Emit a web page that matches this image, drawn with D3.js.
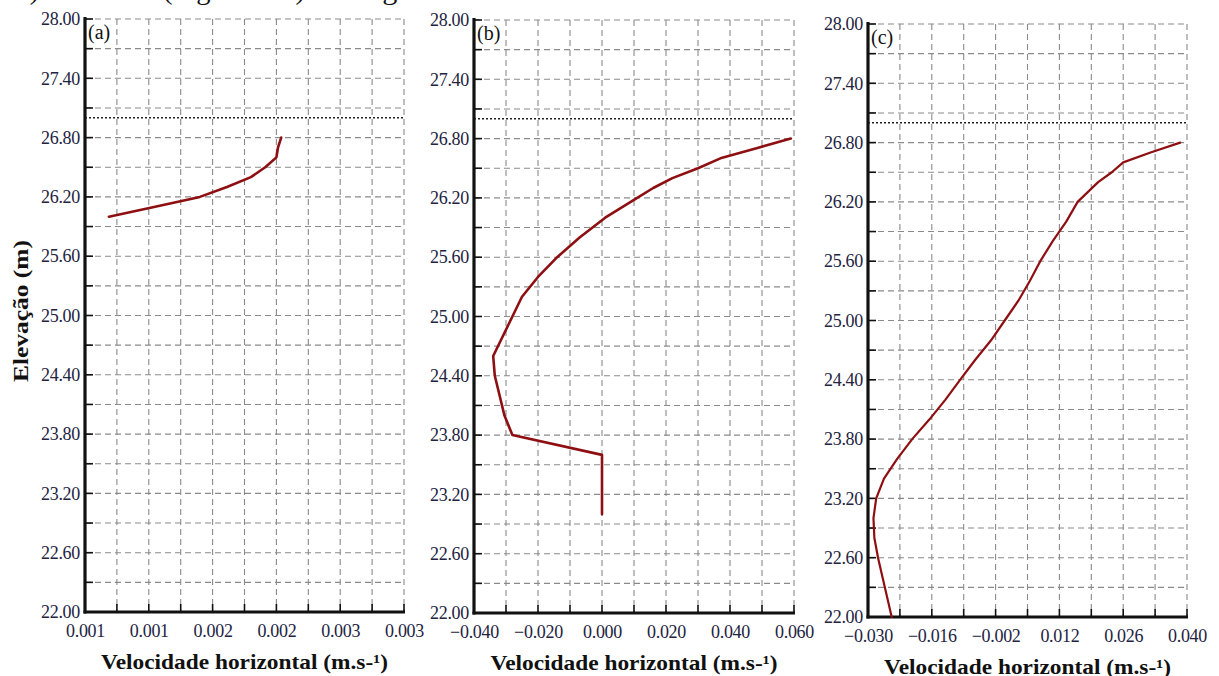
<!DOCTYPE html>
<html>
<head>
<meta charset="utf-8">
<script src="https://cdn.jsdelivr.net/npm/d3@7"></script>
<style>
  html, body { margin: 0; padding: 0; background: #fff; }
  svg { display: block; }
  text { font-family: "Liberation Serif", "Times New Roman", serif; }
</style>
</head>
<body>
<svg id="chart" width="1219" height="676"></svg>
<script>
// Elevation axis shared by the three profiles (m)
const elevDomain = [22.0, 28.0];
const elevTickLabels = [22.0, 22.6, 23.2, 23.8, 24.4, 25.0, 25.6, 26.2, 26.8, 27.4, 28.0];
const waterLevel = 27.0;

// Profile (a)
const aElev = [26.0, 26.1, 26.2, 26.3, 26.4, 26.5, 26.6, 26.7, 26.8];
const aVel  = [0.00115, 0.00144, 0.00172, 0.00189, 0.00204, 0.00213, 0.00220, 0.00221, 0.00223];
const aDomain = [0.0010, 0.0030];
const aTicks = [0.0010, 0.0014, 0.0018, 0.0022, 0.0026, 0.0030];

// Profile (b)
const bElev = [26.8, 26.7, 26.6, 26.5, 26.4, 26.3, 26.2, 26.0, 25.8, 25.6, 25.4, 25.2, 25.0, 24.8, 24.6, 24.4, 24.2, 24.0, 23.8, 23.6, 23.0];
const bVel  = [0.059, 0.048, 0.037, 0.030, 0.022, 0.016, 0.011, 0.001, -0.007, -0.014, -0.020, -0.025, -0.028, -0.031, -0.034, -0.0335, -0.032, -0.0305, -0.028, 0.000, 0.000];
const bDomain = [-0.040, 0.060];
const bTicks = [-0.040, -0.020, 0.000, 0.020, 0.040, 0.060];

// Profile (c)
const cElev = [26.8, 26.7, 26.6, 26.5, 26.4, 26.2, 26.0, 25.8, 25.6, 25.4, 25.2, 25.0, 24.8, 24.6, 24.4, 24.2, 24.0, 23.8, 23.6, 23.4, 23.2, 23.0, 22.8, 22.6, 22.4, 22.2, 22.0];
const cVel  = [0.0385, 0.032, 0.026, 0.0235, 0.0205, 0.016, 0.0135, 0.0105, 0.0078, 0.0055, 0.003, 0.0, -0.003, -0.0065, -0.0098, -0.013, -0.0165, -0.0203, -0.0236, -0.0265, -0.0282, -0.0288, -0.0286, -0.0278, -0.0268, -0.0258, -0.0248];
const cDomain = [-0.030, 0.040];
const cTicks = [-0.030, -0.016, -0.002, 0.012, 0.026, 0.040];

const panelLabels = ["(a)", "(b)", "(c)"];
const xTitle = "Velocidade horizontal (m.s-\u00B9)";
const yTitle = "Elevação (m)";

const svg = d3.select("#chart");
const labelColor = "#23233f";
const lineColor = "#8e0f12";

const panels = [
  { box: { left: 85,  right: 404,  top: 19, bottom: 612 }, elev: aElev, vel: aVel, domain: aDomain, ticks: aTicks, label: panelLabels[0], width: 2.6 },
  { box: { left: 474, right: 794,  top: 20, bottom: 613 }, elev: bElev, vel: bVel, domain: bDomain, ticks: bTicks, label: panelLabels[1], width: 2.6 },
  { box: { left: 868, right: 1187, top: 24, bottom: 617 }, elev: cElev, vel: cVel, domain: cDomain, ticks: cTicks, label: panelLabels[2], width: 2.2 }
];

// Caption line of the running text, mostly above the top edge
const caption = svg.append("g").attr("font-size", 28).attr("fill", "#111");
caption.append("text").attr("x", 39).attr("y", -1).attr("text-anchor", "end").text("a)");
caption.append("text").attr("x", 163).attr("y", -1)
  .attr("textLength", 142).attr("lengthAdjust", "spacingAndGlyphs").text("(Figura 10a)");
caption.append("text").attr("x", 336).attr("y", -1)
  .attr("textLength", 100).attr("lengthAdjust", "spacingAndGlyphs").text("e Figura");

panels.forEach(p => {
  const b = p.box;
  const x = d3.scaleLinear().domain(p.domain).range([b.left, b.right]);
  const y = d3.scaleLinear().domain(elevDomain).range([b.bottom, b.top]);
  const g = svg.append("g");

  // minor ticks sit halfway between labelled ticks
  const xMinor = [];
  p.ticks.forEach((t, i) => {
    xMinor.push(t);
    if (i < p.ticks.length - 1) xMinor.push((t + p.ticks[i + 1]) / 2);
  });
  const yMinor = [];
  elevTickLabels.forEach((t, i) => {
    yMinor.push(t);
    if (i < elevTickLabels.length - 1) yMinor.push((t + elevTickLabels[i + 1]) / 2);
  });

  // dashed grid
  g.append("g").selectAll("line").data(yMinor.slice(1)).join("line")
    .attr("x1", b.left).attr("x2", b.right)
    .attr("y1", d => y(d)).attr("y2", d => y(d))
    .attr("stroke", "#8a8a8a").attr("stroke-width", 1.1).attr("stroke-dasharray", "6,4");
  g.append("g").selectAll("line").data(xMinor.slice(1)).join("line")
    .attr("x1", d => x(d)).attr("x2", d => x(d))
    .attr("y1", b.top).attr("y2", b.bottom)
    .attr("stroke", "#8a8a8a").attr("stroke-width", 1.1).attr("stroke-dasharray", "6,4");

  // water surface
  g.append("line")
    .attr("x1", b.left).attr("x2", b.right)
    .attr("y1", y(waterLevel)).attr("y2", y(waterLevel))
    .attr("stroke", "#222").attr("stroke-width", 1.5).attr("stroke-dasharray", "2,2");

  // axes
  const yAxis = d3.axisLeft(y).tickValues(elevTickLabels).tickFormat(d3.format(".2f")).tickSize(0).tickPadding(5);
  const ya = g.append("g").attr("transform", `translate(${b.left},0)`).call(yAxis);
  ya.select(".domain").remove();
  ya.selectAll("text").attr("font-size", 18).attr("fill", labelColor).attr("letter-spacing", "-0.3");

  const xAxis = d3.axisBottom(x).tickValues(p.ticks).tickFormat(d3.format(".3f")).tickSize(0).tickPadding(12);
  const xa = g.append("g").attr("transform", `translate(0,${b.bottom})`).call(xAxis);
  xa.select(".domain").remove();
  xa.selectAll("text").attr("font-size", 18).attr("fill", labelColor).attr("letter-spacing", "-0.3");

  // inward tick marks
  g.append("g").selectAll("line").data(yMinor).join("line")
    .attr("x1", b.left).attr("x2", b.left + 8)
    .attr("y1", d => y(d)).attr("y2", d => y(d))
    .attr("stroke", "#111").attr("stroke-width", 1.6);
  g.append("g").selectAll("line").data(xMinor).join("line")
    .attr("x1", d => x(d)).attr("x2", d => x(d))
    .attr("y1", b.bottom).attr("y2", b.bottom - 8)
    .attr("stroke", "#111").attr("stroke-width", 1.6);

  // axis lines
  g.append("line").attr("x1", b.left).attr("x2", b.left).attr("y1", b.top - 2).attr("y2", b.bottom + 1.5)
    .attr("stroke", "#111").attr("stroke-width", 3.2);
  g.append("line").attr("x1", b.left - 1.5).attr("x2", b.right + 1).attr("y1", b.bottom).attr("y2", b.bottom)
    .attr("stroke", "#111").attr("stroke-width", 3.2);

  // velocity profile
  const pts = p.elev.map((e, i) => [p.vel[i], e]);
  g.append("path").datum(pts)
    .attr("d", d3.line().x(d => x(d[0])).y(d => y(d[1])).curve(d3.curveLinear))
    .attr("fill", "none").attr("stroke", lineColor).attr("stroke-width", p.width)
    .attr("stroke-linejoin", "round").attr("stroke-linecap", "round");

  // panel letter
  g.append("text").attr("x", b.left + 3).attr("y", b.top + 20)
    .attr("font-size", 20).attr("fill", "#111").text(p.label);

  // x title
  g.append("text").attr("x", (b.left + b.right) / 2).attr("y", b.bottom + 57)
    .attr("text-anchor", "middle").attr("font-size", 21).attr("font-weight", "bold")
    .attr("fill", "#111").attr("textLength", 287).attr("lengthAdjust", "spacingAndGlyphs")
    .text(xTitle);
});

// y title on the left panel
svg.append("text")
  .attr("transform", "translate(28,311) rotate(-90)")
  .attr("text-anchor", "middle").attr("font-size", 21).attr("font-weight", "bold")
  .attr("fill", "#111").attr("textLength", 142).attr("lengthAdjust", "spacingAndGlyphs")
  .text(yTitle);
</script>
</body>
</html>
